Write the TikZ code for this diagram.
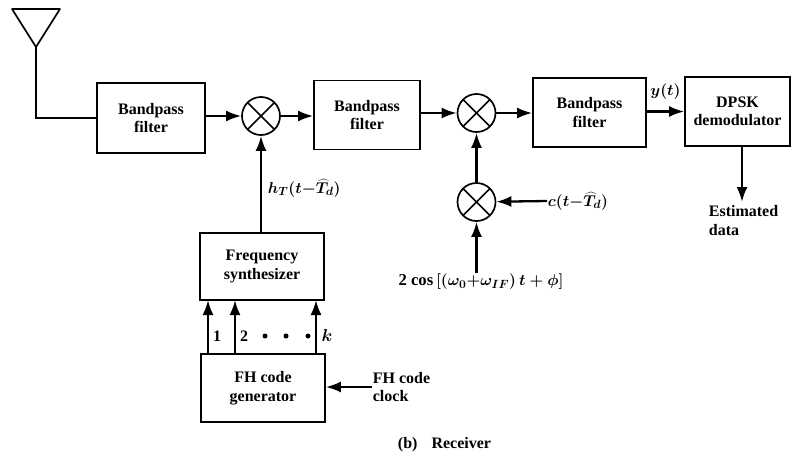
\documentclass[tikz,border=0pt]{standalone}
\usepackage{graphicx}
\usepackage{fontspec}
\setmainfont{Liberation Serif}
\usetikzlibrary{arrows.meta}
\AtBeginDocument{\boldmath}
\newcommand{\oznaka}[1]{\scalebox{1.09}{\fontsize{15.3}{18}\selectfont #1}}
\begin{document}
\begin{tikzpicture}[
        x=1pt, y=-1pt,
        line width=1.7pt,
        every node/.style={font=\fontsize{16}{18.5}\selectfont\bfseries, inner sep=0pt},
        blok/.style={draw, align=center},
        mesalnik/.style={draw, circle, minimum size=38pt,
            path picture={
                \draw[line width=1.7pt] (path picture bounding box.north west) -- (path picture bounding box.south east);
                \draw[line width=1.7pt] (path picture bounding box.south west) -- (path picture bounding box.north east);
            }},
        pika/.style={circle, fill=black, minimum size=5pt},
        sig/.style={line width=2.3pt, -{Latex[length=15pt, width=11pt]}}
    ]
        \useasboundingbox (0,0) rectangle (791,453);

        % --- ANTENA ---
        \coordinate (antL) at (12,9);
        \coordinate (antR) at (60,9);
        \coordinate (ant) at (36,47);
        \draw[line join=round] (antL) -- (antR) -- (ant) -- cycle;

        % --- ZGORNJA VEJA ---
        \node[blok, minimum width=108pt, minimum height=70pt] (bpfA) at (151,118) {Bandpass\\filter};
        \node[mesalnik] (mixA) at (261,116) {};
        \node[blok, minimum width=106pt, minimum height=69pt] (bpfB) at (367,115) {Bandpass\\filter};
        \node[mesalnik] (mixB) at (476.5,113) {};
        \node[blok, minimum width=113pt, minimum height=69pt] (bpfC) at (589.5,112.5) {Bandpass\\filter};
        \node[blok, minimum width=105pt, minimum height=69pt] (dpsk) at (737.5,111.5) {DPSK\\demodulator};
        \node[mesalnik] (mixC) at (476.5,202) {};

        % Spodnja bloka
        \node[blok, minimum width=124pt, minimum height=67pt] (synth) at (262,266.5) {Frequency\\synthesizer};
        \node[blok, minimum width=124pt, minimum height=68pt] (gen) at (263,388) {FH code\\generator};

        % Oznake signalov
        \node[anchor=west] (lh) at (267,188) {\oznaka{$h_T(t{-}\widehat{T}_d)$}};
        \node (ly) at (665.5,92) {\oznaka{$y(t)$}};
        \node[anchor=west] (lc) at (547,201) {\oznaka{$c(t{-}\widehat{T}_d)$}};
        \node (lcos) at (481,282) {\oznaka{2 cos\,$[(\omega_0{+}\omega_{IF})\,t+\phi]$}};
        \node[anchor=north west, align=left] (lest) at (708,205) {Estimated\\data};
        \node[anchor=west, align=left] (lclk) at (372,387) {FH code\\clock};
        \node (lcap) at (444.5,445) {(b)\hspace{14pt}Receiver};

        % Povezave
        \draw[line width=2.3pt] (ant) |- (bpfA.west);
        \draw[sig] (bpfA.east |- mixA) -- (mixA);
        \draw[sig] (mixA) -- (bpfB.west |- mixA);
        \draw[sig] (bpfB.east |- mixB) -- (mixB);
        \draw[sig] (mixB) -- (bpfC.west |- mixB);
        \draw[sig] (bpfC.east |- dpsk) -- (dpsk.west);
        \draw[sig] (synth.north -| mixA) -- (mixA);
        \draw[sig] (mixC) -- (mixB);
        \draw[sig] (lc.west) -- (mixC);
        \coordinate (cosTop) at (476.5,273);
        \draw[sig] (cosTop) -- (mixC);
        \coordinate (estTop) at (742,202);
        \draw[sig] (dpsk.south -| estTop) -- (estTop);
        \draw[sig] (lclk.west) -- (gen.east |- lclk);

        % --- VODILA k ---
        \foreach \i/\x in {1/208, 2/235, 3/316} {
            \coordinate (up\i) at (\x,300);
            \coordinate (dn\i) at (\x,354);
            \draw[sig] (dn\i) -- (up\i);
        }
        \node (l1) at (217,336) {1};
        \node (l2) at (244,336) {2};
        \node (lk) at (327,335) {$k$};
        \foreach \x in {265, 286, 308} {
            \node[pika] (dot\x) at (\x,336) {};
        }
    \end{tikzpicture}
\end{document}
